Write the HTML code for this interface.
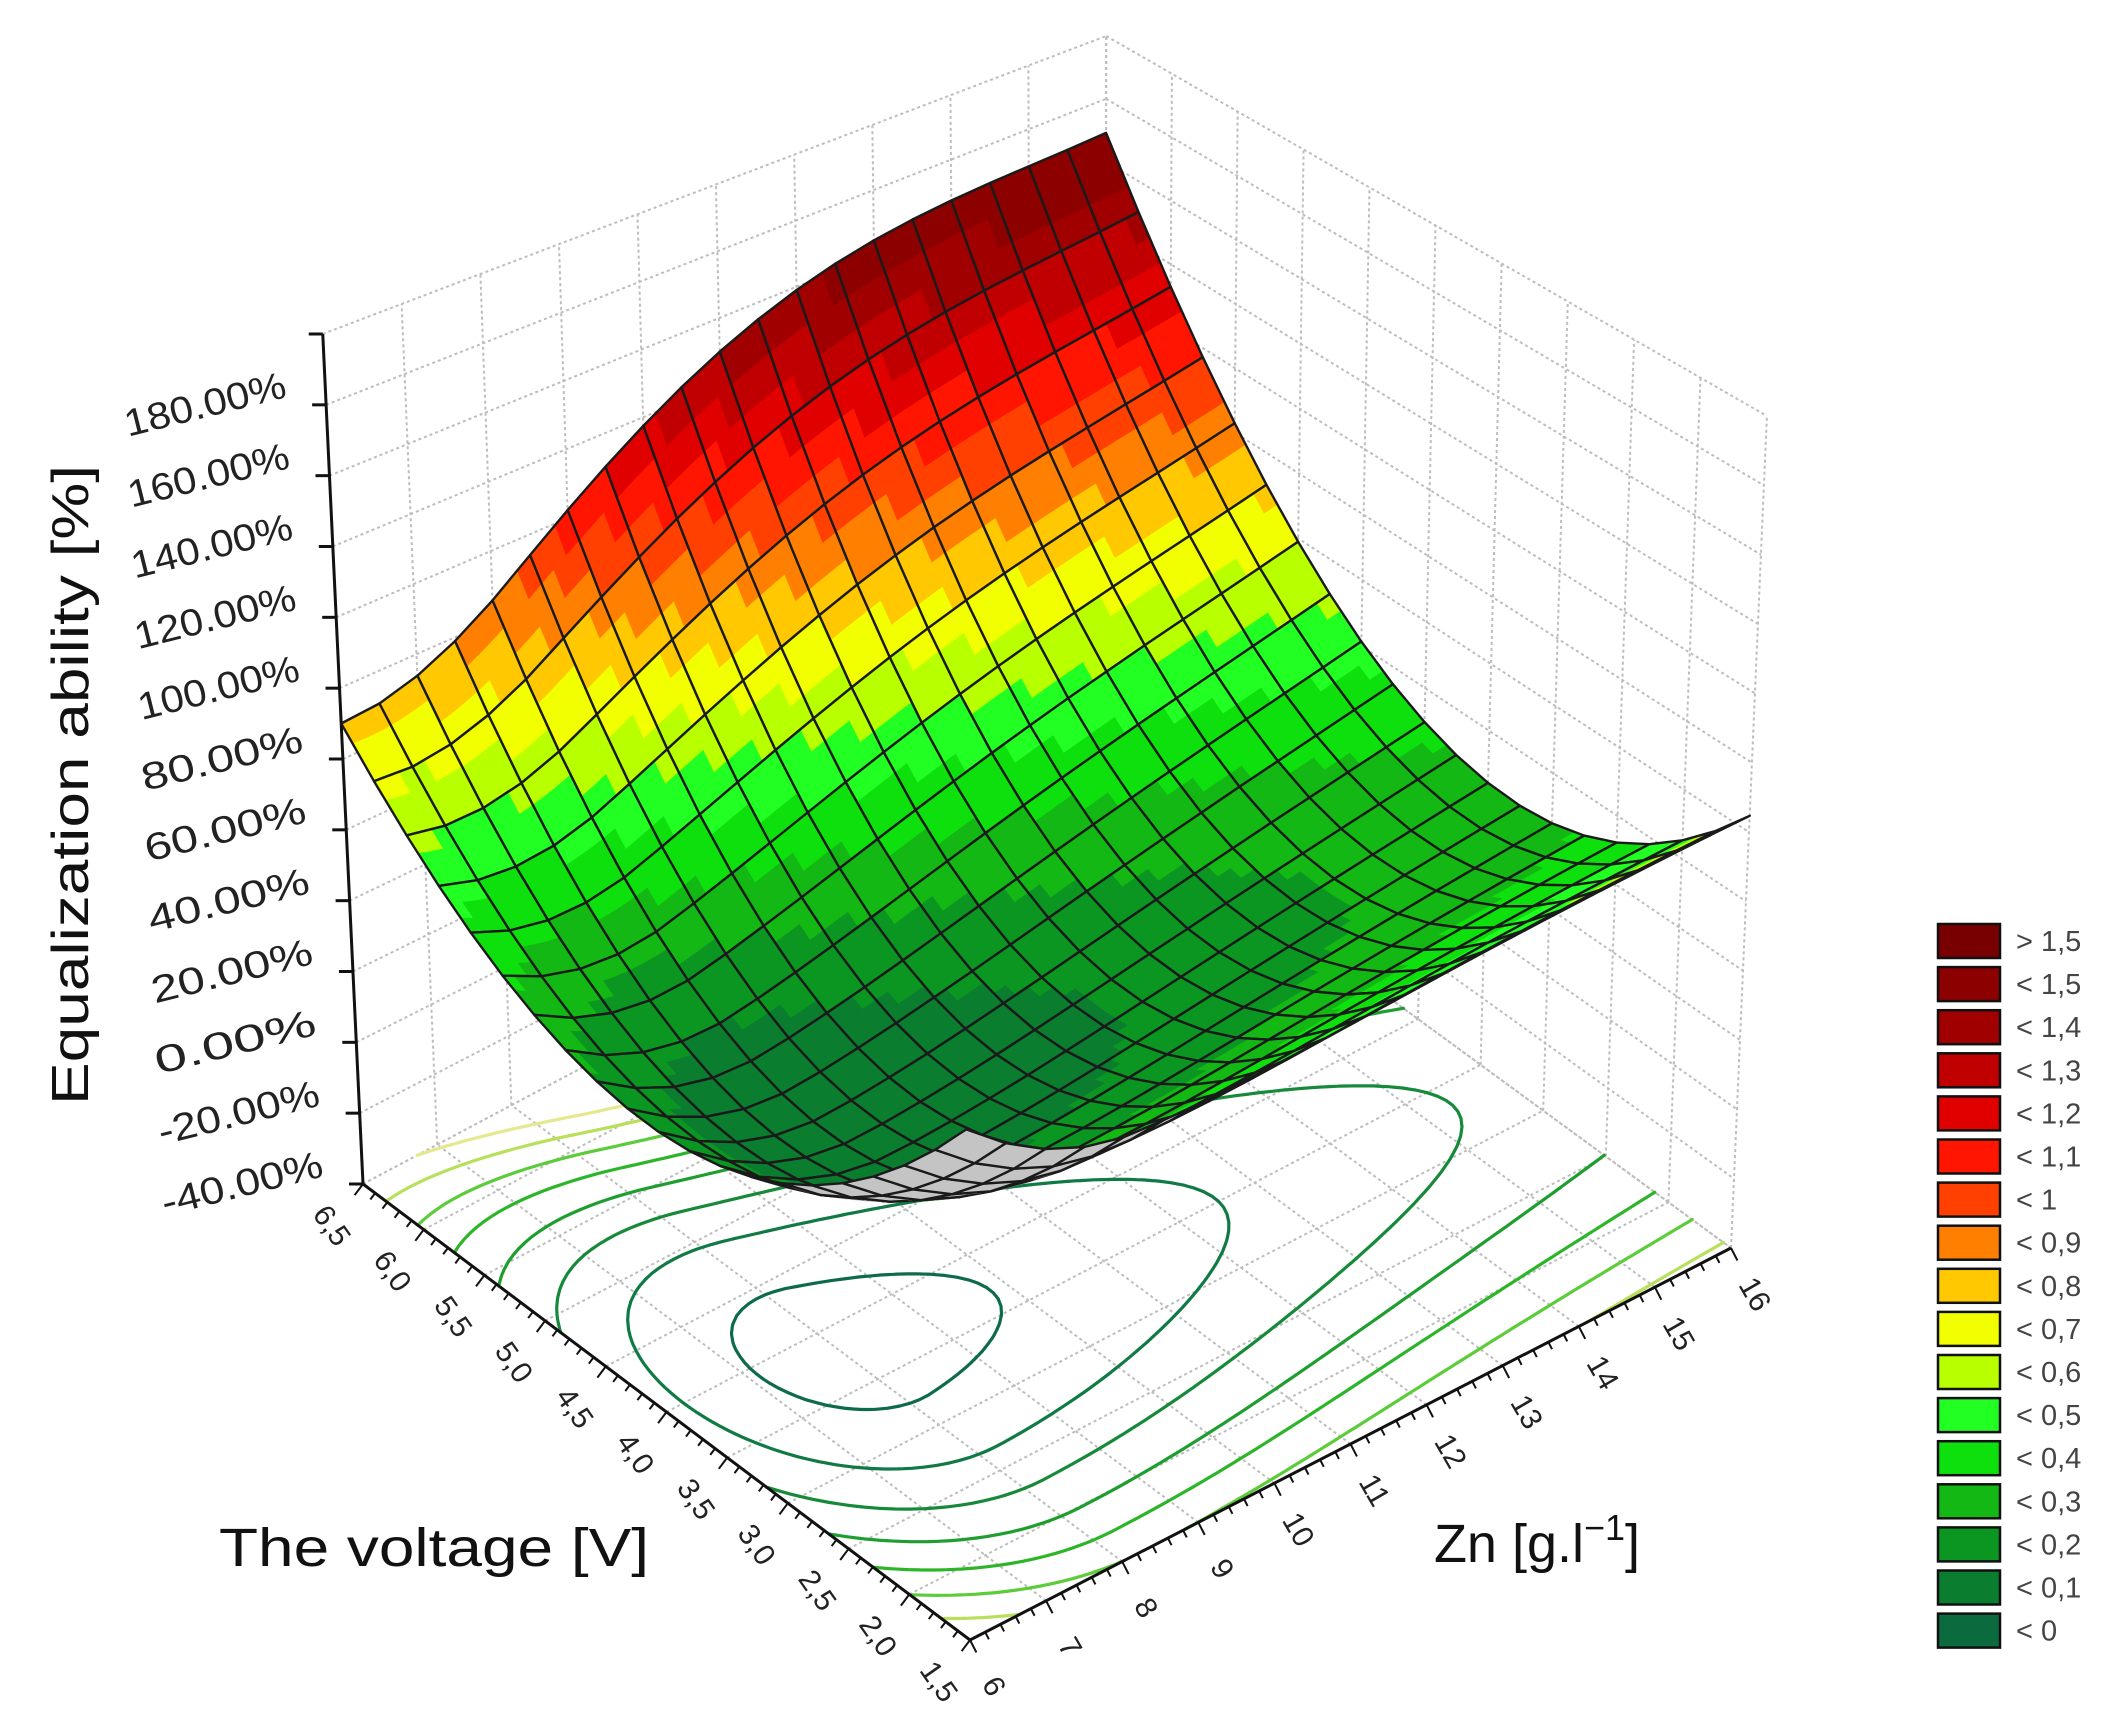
<!DOCTYPE html>
<html><head><meta charset="utf-8">
<style>
html,body{margin:0;padding:0;background:#fff;}
svg{display:block;}
text{font-family:"Liberation Sans",sans-serif;}
</style></head>
<body>
<svg id="s" xmlns="http://www.w3.org/2000/svg" width="2121" height="1728" viewBox="0 0 2121 1728">
<rect width="2121" height="1728" fill="#fff"/>
<g id="walls"></g>
<g id="floorg"></g>
<g id="contours"></g>
<g id="axes"></g>
<g id="surf"></g>
<g id="labels"></g>
<g id="legend"></g>
<text x="0" y="0" transform="translate(88,785) rotate(-90)" text-anchor="middle" font-size="52" textLength="640" lengthAdjust="spacingAndGlyphs" fill="#111">Equalization ability [%]</text>
<text x="434" y="1566" text-anchor="middle" font-size="54" textLength="430" lengthAdjust="spacingAndGlyphs" fill="#111">The voltage [V]</text>
<text x="1537" y="1562" text-anchor="middle" font-size="54" fill="#111">Zn [g.l<tspan font-size="36" dy="-22">−1</tspan><tspan dy="22">]</tspan></text>
</svg>
<script>
(function(){
var NS="http://www.w3.org/2000/svg";
function el(parent,tag,attrs,txt){var e=document.createElementNS(NS,tag);for(var k in attrs)e.setAttribute(k,attrs[k]);if(txt!==undefined)e.textContent=txt;document.getElementById(parent).appendChild(e);return e;}
var F=[970,1640],R=[1731,1248],L=[363,1184],B=[1105,790];
function fl(u,v){return [F[0]*(1-u)*(1-v)+R[0]*u*(1-v)+L[0]*(1-u)*v+B[0]*u*v, F[1]*(1-u)*(1-v)+R[1]*u*(1-v)+L[1]*(1-u)*v+B[1]*u*v];}
function P(u,v,z){var p=fl(u,v);var H=928-96*u-78*v;var up=(z+40)/240*H;return [p[0]+(p[0]-1080)*up/(16330-p[1]),p[1]-up];}
function g(u){var d=u-0.225,d2=d*d;return d<0?400*d2:60*d2/(1+3*d2);}
function f(u,v){return -5+g(u)+248.7*(v-0.495)*(v-0.495)+22.5*(v-0.495)+86.5*u*u*v*v+55*Math.pow(v,4)*Math.sin(Math.PI*u)+27*(1-v*v);}
function pt(a){return a[0].toFixed(1)+","+a[1].toFixed(1);}
var pal=['#0b6b3f','#0a7d2e','#0b9622','#14b814','#0ee00e','#22ff22','#b8ff00','#f2ff00','#ffc800','#ff8000','#ff4000','#ff1500','#e00000','#c00000','#a00000','#8c0000','#780000'];
function col(z){var l=(z-17)/100;var i=Math.floor(l*10)+1;if(l<0)i=0;if(i>16)i=16;if(i<0)i=0;return pal[i];}
var dot={stroke:"#bdbdbd","stroke-width":2,"stroke-dasharray":"3,3",fill:"none"};
function line(g,a,b,at){var o={x1:a[0],y1:a[1],x2:b[0],y2:b[1]};for(var k in at)o[k]=at[k];el(g,"line",o);}
for(var k=0;k<=10;k++){var t=k/10;
 line("walls",P(t,1,-40),P(t,1,200),dot);
 line("walls",P(1,t,-40),P(1,t,200),dot);
 line("floorg",fl(t,0),fl(t,1),dot);
 line("floorg",fl(0,t),fl(1,t),dot);}
for(var z=-40;z<=200;z+=20){line("walls",P(0,1,z),P(1,1,z),dot);line("walls",P(1,1,z),P(1,0,z),dot);}
var levels=[22,32,42,52,62,72,82,92];
var ccol=['#0d6b4a','#107a45','#168a3a','#1f9e30','#2db52a','#5ccc3a','#b8e05a','#e6e890'];
var N=90;var G=[];for(var i=0;i<=N;i++){G[i]=[];for(var j=0;j<=N;j++)G[i][j]=f(i/N,j/N);}
levels.forEach(function(lv,li){var d="";
 for(var i=0;i<N;i++)for(var j=0;j<N;j++){
  var c=[[i,j],[i+1,j],[i+1,j+1],[i,j+1]];var pts=[];
  for(var e=0;e<4;e++){var a=c[e],b=c[(e+1)%4];var va=G[a[0]][a[1]],vb=G[b[0]][b[1]];
   if((va-lv)*(vb-lv)<0){var t=(lv-va)/(vb-va);pts.push(fl((a[0]+(b[0]-a[0])*t)/N,(a[1]+(b[1]-a[1])*t)/N));}}
  if(pts.length>=2){d+="M"+pt(pts[0])+"L"+pt(pts[1]);if(pts.length==4)d+="M"+pt(pts[2])+"L"+pt(pts[3]);}
 }
 el("contours","path",{d:d,stroke:ccol[li],"stroke-width":3.2,fill:"none","stroke-linecap":"round"});
});
var ax={stroke:"#111","stroke-width":3};
line("axes",P(0,1,-40),P(0,1,200),ax);
line("axes",fl(0,1),fl(0,0),ax);
line("axes",fl(0,0),fl(1,0),ax);
for(var z=-40;z<=200;z+=20){var a=P(0,1,z);line("axes",a,[a[0]-14,a[1]],ax);}
for(var k=0;k<=50;k++){var t=k/50;var a=fl(0,1-t);var len=(k%5==0)?14:8;
 line("axes",a,[a[0]-0.6*len,a[1]+0.8*len],{stroke:"#111","stroke-width":2});
 var b=fl(t,0);line("axes",b,[b[0]+0.46*len,b[1]+0.89*len],{stroke:"#111","stroke-width":2});}
for(var z=-40;z<=180;z+=20){var a=P(0,1,z);var cx=a[0]-118,cy=a[1]+12;
 el("labels","text",{x:cx,y:cy,"text-anchor":"middle","font-size":38,fill:"#222",textLength:165,lengthAdjust:"spacingAndGlyphs",transform:"rotate(-14 "+cx+" "+cy+")"},z.toFixed(2)+"%");}
for(var k=0;k<=10;k++){var v=1-k/10;var a=fl(0,v);var cx=a[0]-0.6*52,cy=a[1]+0.8*52;
 el("labels","text",{x:cx,y:cy+10,"text-anchor":"middle","font-size":30,fill:"#222",transform:"rotate(55 "+cx+" "+cy+")"},(6.5-k*0.5).toFixed(1).replace(".",","));}
for(var k=0;k<=10;k++){var u=k/10;var a=fl(u,0);var cx=a[0]+0.46*52,cy=a[1]+0.89*52;
 el("labels","text",{x:cx,y:cy+10,"text-anchor":"middle","font-size":30,fill:"#222",transform:"rotate(60 "+cx+" "+cy+")"},String(6+k));}
var M=20,S=[];
for(var i=0;i<M;i++)for(var j=0;j<M;j++)S.push([i,j]);
S.sort(function(a,b){return (b[0]+b[1])-(a[0]+a[1]);});
function area(p){var s=0;for(var k=0;k<p.length;k++){var q=p[k],r=p[(k+1)%p.length];s+=q[0]*r[1]-r[0]*q[1];}return s;}
var ref=area([fl(0,0),fl(1,0),fl(1,1),fl(0,1)]);
S.forEach(function(c){var i=c[0],j=c[1];
 var u0=i/M,u1=(i+1)/M,v0=j/M,v1=(j+1)/M;
 var q=[P(u0,v0,f(u0,v0)),P(u1,v0,f(u1,v0)),P(u1,v1,f(u1,v1)),P(u0,v1,f(u0,v1))];
 var back=area(q)*ref<0;
 var sub=3;
 for(var a=0;a<sub;a++)for(var b=0;b<sub;b++){
  var ua=u0+(u1-u0)*a/sub,ub=u0+(u1-u0)*(a+1)/sub,va=v0+(v1-v0)*b/sub,vb=v0+(v1-v0)*(b+1)/sub;
  var pp=[P(ua,va,f(ua,va)),P(ub,va,f(ub,va)),P(ub,vb,f(ub,vb)),P(ua,vb,f(ua,vb))];
  var cz=f((ua+ub)/2,(va+vb)/2);var cl=back?'#c4c4c4':col(cz);
  el("surf","polygon",{points:pp.map(pt).join(" "),fill:cl,stroke:cl,"stroke-width":1});
 }
 el("surf","polygon",{points:q.map(pt).join(" "),fill:"none",stroke:"#1a1a1a","stroke-width":2.4,"stroke-linejoin":"round"});
});
var lab=['> 1,5','< 1,5','< 1,4','< 1,3','< 1,2','< 1,1','< 1','< 0,9','< 0,8','< 0,7','< 0,6','< 0,5','< 0,4','< 0,3','< 0,2','< 0,1','< 0'];
for(var k=0;k<17;k++){var y=924+k*43.1;
 el("legend","rect",{x:1938,y:y,width:62,height:34,fill:pal[16-k],stroke:"#111","stroke-width":2.5});
 el("legend","text",{x:2016,y:y+27,"font-size":29,fill:"#444"},lab[k]);}
})();
</script>
</body></html>
